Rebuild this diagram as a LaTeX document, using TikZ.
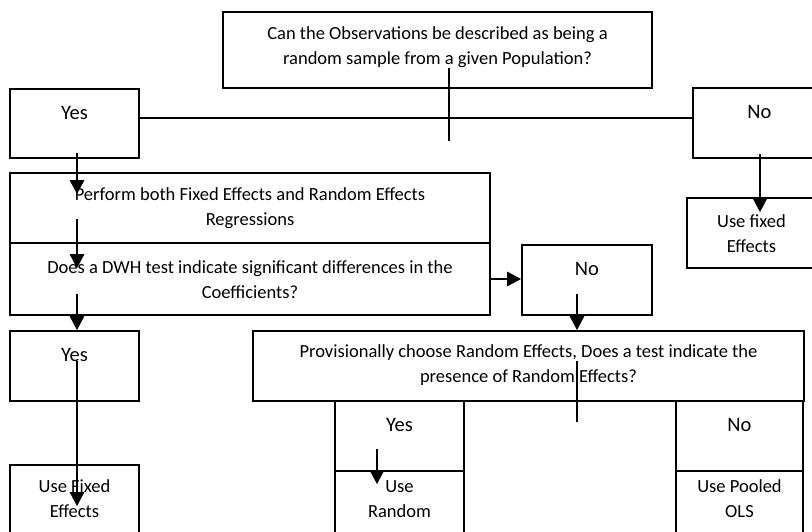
\documentclass[tikz,border=0pt]{standalone}
\usepackage{fontspec}
\setmainfont{Carlito}
\usetikzlibrary{arrows.meta}
\tikzset{
  box/.style={draw, line width=1.6pt, inner sep=0pt, rectangle},
  txt/.style={inner sep=0pt, align=center, font=\fontsize{18.5}{25}\selectfont},
  yn/.style={inner sep=0pt, align=center, font=\fontsize{20.5}{25}\selectfont},
  arr/.style={line width=2.6pt, -{Triangle[length=14pt,width=14pt]}},
  ln/.style={line width=1.5pt}
}
\begin{document}
\begin{tikzpicture}[x=1pt,y=-1pt]
\clip (0,0) rectangle (812,531);
\fill[white] (0,0) rectangle (812,531);
% boxes
\node[box, minimum width=429pt, minimum height=76pt] (q1) at (437.5,50) {};
\node[box, minimum width=129pt, minimum height=69pt] (yes1) at (74.5,123.5) {};
\node[box, minimum width=133pt, minimum height=70pt] (no1) at (759.5,123) {};
\node[box, minimum width=129pt, minimum height=70pt] (fix1) at (751.5,233) {};
\node[box, minimum width=480pt, minimum height=70pt] (perf) at (250,208) {};
\node[box, minimum width=480pt, minimum height=72pt] (dwh) at (250,279) {};
\node[box, minimum width=130pt, minimum height=70pt] (no2) at (587,280) {};
\node[box, minimum width=551pt, minimum height=70pt] (prov) at (528.5,366) {};
\node[box, minimum width=129pt, minimum height=70pt] (yes2) at (74.5,366) {};
\node[box, minimum width=129pt, minimum height=80pt] (fix2) at (74.5,505) {};
\node[box, minimum width=129pt, minimum height=70pt] (yes3) at (399.5,436) {};
\node[box, minimum width=129pt, minimum height=74pt] (rand) at (399.5,508) {};
\node[box, minimum width=127pt, minimum height=70pt] (no3) at (739.5,436) {};
\node[box, minimum width=127pt, minimum height=74pt] (pool) at (739.5,508) {};
% texts
\node[txt] (q1t) at ([yshift=-35.5pt]q1.north) {Can the Observations be described as being a\\random sample from a given Population?};
\node[yn] (yes1t) at ([yshift=-25pt]yes1.north) {Yes};
\node[yn] (no1t) at ([yshift=-25pt]no1.north) {No};
\node[txt] (fix1t) at ([yshift=-36pt]fix1.north) {Use fixed\\Effects};
\node[txt] (perft) at ([yshift=-35.5pt]perf.north) {Perform both Fixed Effects and Random Effects\\Regressions};
\node[txt] (dwht) at ([yshift=-37.5pt]dwh.north) {Does a DWH test indicate significant differences in the\\Coefficients?};
\node[yn] (no2t) at ([yshift=-25pt]no2.north) {No};
\node[txt] (provt) at ([yshift=-35pt]prov.north) {Provisionally choose Random Effects, Does a test indicate the\\presence of Random Effects?};
\node[yn] (yes2t) at ([yshift=-25pt]yes2.north) {Yes};
\node[txt] (fix2t) at ([yshift=-34.5pt]fix2.north) {Use Fixed\\Effects};
\node[yn] (yes3t) at ([yshift=-25pt]yes3.north) {Yes};
\node[txt] (randt) at ([yshift=-28.5pt]rand.north) {Use\\Random};
\node[yn] (no3t) at ([yshift=-25pt]no3.north) {No};
\node[txt] (poolt) at ([yshift=-28.5pt]pool.north) {Use Pooled\\OLS};
% plain lines
\draw[ln] ([yshift=5.5pt]yes1.east) coordinate (l1s) -- (l1s -| no1.west);
\draw[ln] ([xshift=11.5pt,yshift=21pt]q1.south) -- ([xshift=11.5pt,yshift=-52pt]q1.south);
\draw[ln] ([xshift=48.5pt,yshift=41pt]prov.south) -- ([xshift=48.5pt,yshift=-20pt]prov.south);
% arrows
\coordinate (ax) at ([xshift=2.5pt]yes1.south);
\draw[arr] ([yshift=6pt]ax) -- ([yshift=-22pt]ax |- perf.north);
\draw[arr] ([yshift=25pt]ax |- perf.south) -- ([yshift=-26pt]ax |- dwh.north);
\draw[arr] (dwh.east) -- (dwh.east -| no2.west);
\draw[arr] ([xshift=-10pt,yshift=22pt]no2.south) coordinate (a4s) -- (a4s |- prov.north);
\draw[arr] ([yshift=22pt]ax |- dwh.south) -- (ax |- yes2.north);
\draw[arr] ([yshift=-31pt]ax |- yes2.north) -- ([yshift=-42pt]ax |- fix2.north);
\draw[arr] ([xshift=-22.5pt,yshift=23pt]yes3.south) coordinate (a7s) -- ([yshift=-14pt]a7s |- rand.north);
\draw[arr] ([xshift=0.5pt,yshift=5pt]no1.south) coordinate (a8s) -- ([yshift=-15pt]a8s |- fix1.north);
\end{tikzpicture}
\end{document}
